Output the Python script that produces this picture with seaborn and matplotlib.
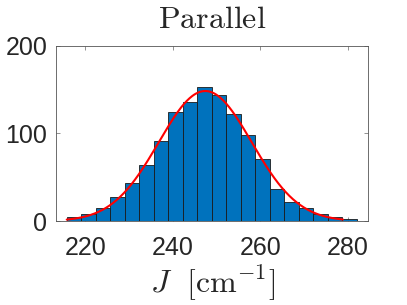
# Histogram of J values with a normal fit (MATLAB-style look).

import numpy as np
import pandas as pd
import seaborn as sbn
import matplotlib.pyplot as plt

# Bin edges and counts
bin_start = 215.8
bin_width = 3.31
counts = [5, 8, 15, 27, 44, 64, 91, 124, 136, 153,
          144, 122, 98, 71, 37, 22, 15, 8, 5, 2]

# Normal fit parameters
fit_mu = 247.4
fit_sigma = 10.6
fit_range = [215.8, 278.8]

x_ticks = [220, 240, 260, 280]
y_ticks = [0, 100, 200]

edges = bin_start + bin_width * np.arange(len(counts) + 1)
centers = (edges[:-1] + edges[1:]) / 2
df = pd.DataFrame({'J': centers, 'count': counts})

n_total = sum(counts)
xs = np.linspace(fit_range[0], fit_range[1], 300)
pdf = n_total * bin_width / (fit_sigma * np.sqrt(2 * np.pi)) * np.exp(-0.5 * ((xs - fit_mu) / fit_sigma) ** 2)
fit_df = pd.DataFrame({'J': xs, 'fit': pdf})

sbn.set_style('white')
plt.rcParams['font.family'] = ['Liberation Sans', 'DejaVu Sans']
plt.rcParams['mathtext.fontset'] = 'cm'

fig = plt.figure(figsize=(4.07, 3.05), dpi=100)
ax = fig.add_axes([0.137, 0.275, 0.768, 0.575])

sbn.histplot(data=df, x='J', weights='count', bins=edges.tolist(), ax=ax,
             color='#0072BD', alpha=1, edgecolor='#1a1a1a', linewidth=0.6)
sbn.lineplot(data=fit_df, x='J', y='fit', ax=ax, color='red', linewidth=1.5)

ax.set_xlim(213.3, 284.6)
ax.set_ylim(0, 200)
ax.set_xticks(x_ticks)
ax.set_yticks(y_ticks)
ax.tick_params(direction='in', length=3, width=0.6, colors='#262626',
               labelsize=18, top=True, right=True, bottom=True, left=True)
ax.tick_params(axis='x', pad=11)
ax.tick_params(axis='y', pad=6)
ax.tick_params(colors='#808080', labelcolor='#262626')
for s in ax.spines.values():
    s.set_color('#555555')
    s.set_linewidth(0.6)

ax.set_title(r'$\mathrm{Parallel}$', fontsize=23, pad=13)
ax.set_xlabel(r'$J\ \ [\mathrm{cm}^{-1}]$', fontsize=23, labelpad=2)
ax.set_ylabel('')

plt.savefig('out.png', dpi=100)
